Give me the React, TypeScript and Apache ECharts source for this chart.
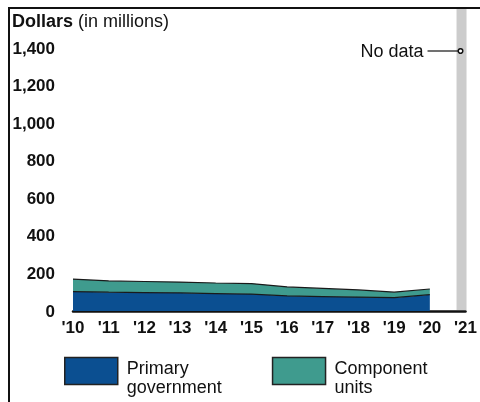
import React, { useEffect, useRef } from "react";
import * as echarts from "echarts";

const years = ["'10", "'11", "'12", "'13", "'14", "'15", "'16", "'17", "'18", "'19", "'20", "'21"];
const primaryGovernment = [103, 100, 98, 96, 93, 90, 80, 77, 74, 71, 87];
const componentUnits = [67, 60, 59, 58, 56, 56, 48, 43, 38, 29, 30];
const yMax = 1400;
const yInterval = 200;

const FONT = "Liberation Sans, Arial, sans-serif";
const BLUE = "#0B4F91";
const TEAL = "#3F9B8E";

export default function App() {
  const ref = useRef<HTMLDivElement>(null);
  useEffect(() => {
    if (!ref.current) return;
    const chart = echarts.init(ref.current, undefined, { renderer: "svg" });
    chart.setOption({
      animation: false,
      textStyle: { fontFamily: FONT },
      title: {
        text: "{b|Dollars} {n|(in millions)}",
        left: 12,
        top: 12,
        padding: 0,
        textStyle: {
          fontWeight: "normal",
          rich: {
            b: { fontFamily: FONT, fontSize: 18, fontWeight: "bold", color: "#111" },
            n: { fontFamily: FONT, fontSize: 18, fontWeight: "normal", color: "#111" },
          },
        },
      },
      grid: { left: 73, right: 12, top: 48, bottom: 91 },
      legend: {
        left: 64,
        top: 351,
        padding: 0,
        icon: "rect",
        itemWidth: 53,
        itemHeight: 27,
        itemGap: 50,
        selectedMode: false,
        itemStyle: { borderColor: "#222", borderWidth: 1.5 },
        formatter: (name: string) =>
          "{s| }\n" + name.split("\n").map((l) => "{a|" + l + "}").join("\n"),
        textStyle: {
          fontFamily: FONT,
          fontSize: 18,
          color: "#111",
          padding: [0, 0, 0, 4],
          rich: {
            s: { fontSize: 2, lineHeight: 13 },
            a: { fontFamily: FONT, fontSize: 18, lineHeight: 19, color: "#111" },
          },
        },
        data: [
          { name: "Primary\ngovernment" },
          { name: "Component\nunits" },
        ],
      },
      xAxis: {
        type: "category",
        data: years,
        boundaryGap: false,
        axisLine: { lineStyle: { color: "#111", width: 2.5 } },
        axisTick: { show: false },
        axisLabel: { fontFamily: FONT, fontSize: 17, fontWeight: "bold", color: "#111", margin: 8 },
        splitLine: { show: false },
      },
      yAxis: {
        type: "value",
        min: 0,
        max: yMax,
        interval: yInterval,
        axisLine: { show: false },
        axisTick: { show: false },
        splitLine: { show: false },
        axisLabel: {
          fontFamily: FONT,
          fontSize: 17,
          fontWeight: "bold",
          color: "#111",
          margin: 18,
          formatter: (v: number) => v.toLocaleString("en-US"),
        },
      },
      series: [
        {
          name: "Primary\ngovernment",
          type: "line",
          stack: "total",
          data: primaryGovernment,
          showSymbol: false,
          itemStyle: { color: BLUE },
          lineStyle: { color: "#1a1a1a", width: 1.2 },
          areaStyle: { color: BLUE, opacity: 1 },
        },
        {
          name: "Component\nunits",
          type: "line",
          stack: "total",
          data: componentUnits,
          showSymbol: false,
          itemStyle: { color: TEAL },
          lineStyle: { color: "#1a1a1a", width: 1.2 },
          areaStyle: { color: TEAL, opacity: 1 },
        },
      ],
    });

    const x21 = chart.convertToPixel({ xAxisIndex: 0 }, years[years.length - 1]) as number;
    const y0 = chart.convertToPixel({ yAxisIndex: 0 }, 0) as number;
    const yTop = chart.convertToPixel({ yAxisIndex: 0 }, yMax) as number;
    const annY = yTop + 3;

    chart.setOption({
      graphic: [
        { type: "line", shape: { x1: 8, y1: 8, x2: 480, y2: 8 }, style: { stroke: "#111", lineWidth: 2 } },
        { type: "line", shape: { x1: 9, y1: 8, x2: 9, y2: 402 }, style: { stroke: "#111", lineWidth: 2 } },
        { type: "rect", z: -1, shape: { x: x21 - 9, y: 9, width: 10, height: y0 - 10 }, style: { fill: "#cccccc" } },
        {
          type: "text",
          x: x21 - 42,
          y: annY,
          style: { text: "No data", fontFamily: FONT, fontSize: 18, fill: "#111", align: "right", verticalAlign: "middle" },
        },
        { type: "line", shape: { x1: x21 - 38, y1: annY, x2: x21 - 7, y2: annY }, style: { stroke: "#111", lineWidth: 1.2 } },
        { type: "circle", shape: { cx: x21 - 5, cy: annY, r: 2.3 }, style: { fill: "#fff", stroke: "#111", lineWidth: 1.5 } },
      ],
    });

    return () => chart.dispose();
  }, []);
  return <div ref={ref} style={{ position: "fixed", left: 0, top: 0, width: 480, height: 402 }} />;
}
